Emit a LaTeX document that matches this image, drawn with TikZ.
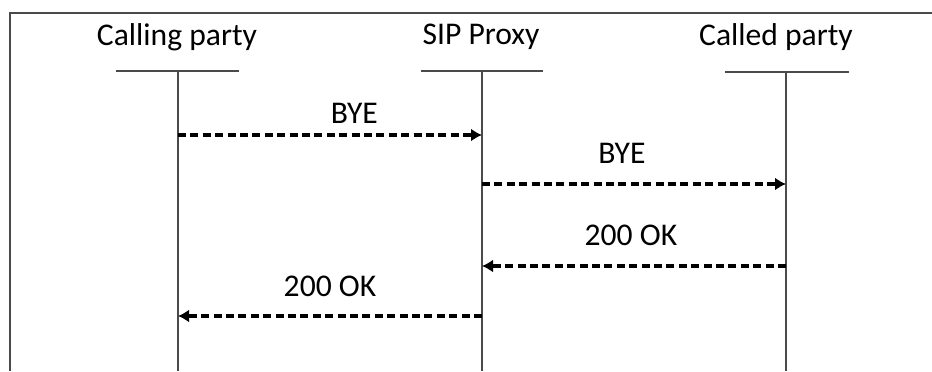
\documentclass[tikz,border=0pt]{standalone}
\usepackage{fontspec}
\setmainfont{Carlito}
\usepackage{xcolor}
\definecolor{LineGray}{HTML}{4A4A4A}
\usetikzlibrary{arrows.meta}

\begin{document}
\begin{tikzpicture}[x=0.5pt,y=-0.5pt,every node/.style={font=\fontsize{15.8}{18}\selectfont,inner sep=0pt},>={Latex[length=5.5pt,width=6.5pt]},
    msg/.style={->,line width=1.9pt,dash pattern=on 4pt off 2.2pt},
    life/.style={draw=LineGray,line width=1pt}]
    \useasboundingbox (0,0) rectangle (932,371);
    \draw[LineGray,line width=1pt] (10,371) -- (10,13) -- (932,13);
    % heads
    \node (calling) at (177,37) {Calling party};
    \node (proxy) at (481,37) {SIP Proxy};
    \node (called) at (776,37) {Called party};
    \draw[life] (116,71) -- (239,71);
    \draw[life] (421,71) -- (543,71);
    \draw[life] (725,72) -- (849,72);
    \draw[life] (178,71) -- (178,371);
    \draw[life] (482,71) -- (482,371);
    \draw[life] (786,72) -- (786,371);
    % messages
    \coordinate (c1) at (178,135);
    \coordinate (p1) at (482,135);
    \coordinate (p2) at (482,184);
    \coordinate (d2) at (786,184);
    \coordinate (d3) at (786,266);
    \coordinate (p3) at (482,266);
    \coordinate (p4) at (482,316);
    \coordinate (c4) at (178,316);
    \draw[msg] (c1) -- node[pos=0.58,anchor=south,yshift=5pt] (bye1) {BYE} (p1);
    \draw[msg] (p2) -- node[pos=0.46,anchor=south,yshift=9.5pt] (bye2) {BYE} (d2);
    \draw[msg] (d3) -- node[pos=0.51,anchor=south,yshift=9pt] (ok1) {200 OK} (p3);
    \draw[msg] (p4) -- node[pos=0.5,anchor=south,yshift=8.5pt] (ok2) {200 OK} (c4);
  \end{tikzpicture}
\end{document}
